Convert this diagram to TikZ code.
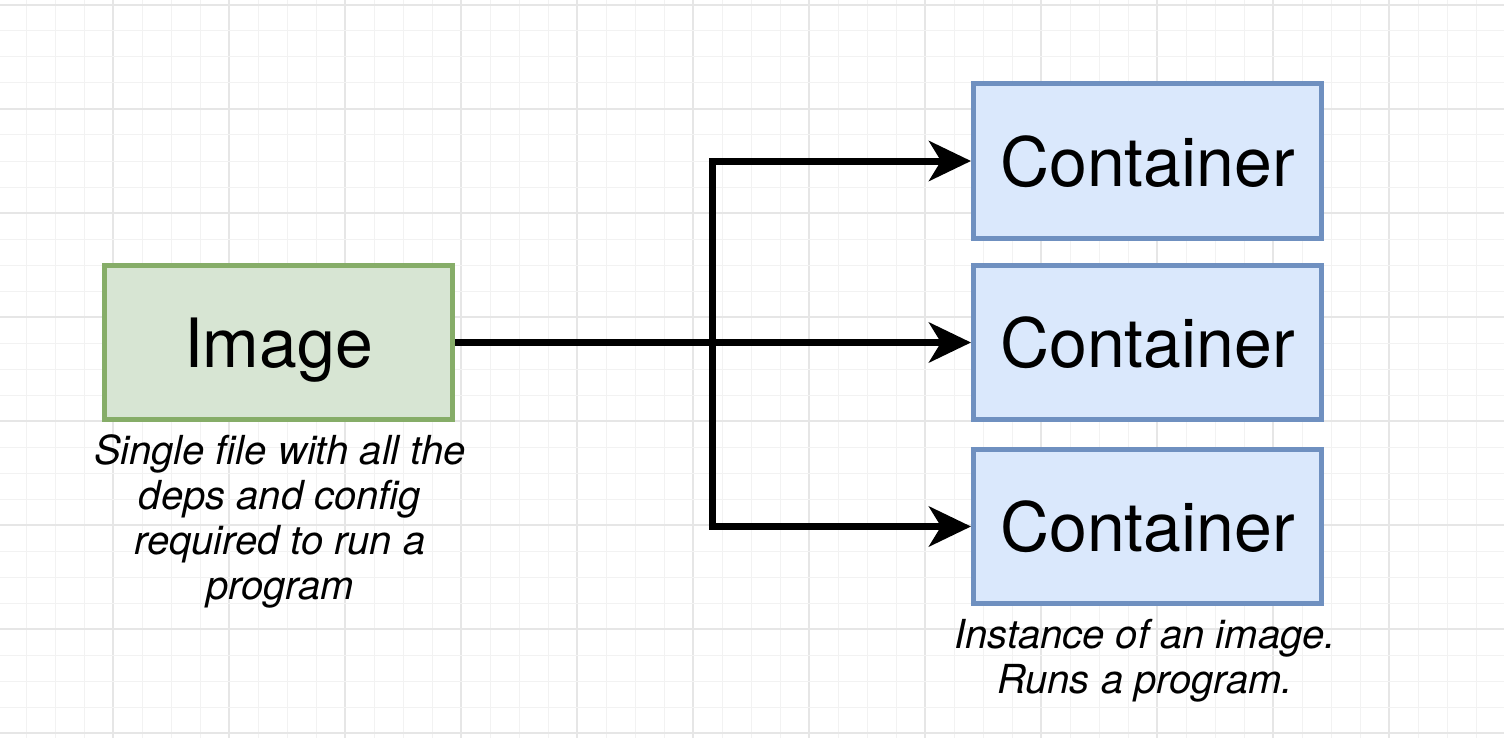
\documentclass[tikz,border=0pt]{standalone}
\usepackage{fontspec}
\setmainfont{TeX Gyre Heros}
\usetikzlibrary{arrows.meta,positioning}
\definecolor{imgfill}{HTML}{D7E5D3}
\definecolor{imgline}{HTML}{86AD68}
\definecolor{ctrfill}{HTML}{DAE8FC}
\definecolor{ctrline}{HTML}{6F90C0}
\definecolor{gridminor}{HTML}{F2F2F2}
\definecolor{gridmajor}{HTML}{E6E6E6}
\tikzset{
	imgbox/.style={draw=imgline, fill=imgfill, line width=2.5pt, minimum width=174pt, minimum height=77pt, inner sep=0pt, text depth=0pt, font=\fontsize{34}{40}\selectfont},
	ctrbox/.style={draw=ctrline, fill=ctrfill, line width=2.5pt, minimum width=174pt, minimum height=77pt, inner sep=0pt, text depth=0pt, font=\fontsize{34}{40}\selectfont},
	note/.style={align=center, inner sep=0pt, anchor=north, font=\fontsize{20}{22.5}\selectfont\itshape},
	flow/.style={line width=3.5pt, -{Stealth[length=21pt,width=20pt,inset=6pt]}},
}
\begin{document}
\begin{tikzpicture}[x=0.5pt,y=-0.5pt]
				\fill[white] (0,0) rectangle (1504,738);
				\useasboundingbox (0,0) rectangle (1504,738);
				% grid
				\foreach \k in {1,...,52}{
					\pgfmathsetmacro{\gx}{29*\k-3}
					\pgfmathtruncatemacro{\gm}{mod(\k,4)}
					\ifnum\gm=0 \draw[gridmajor, line width=0.6pt] (\gx,0) -- (\gx,738); \else \draw[gridminor, line width=0.5pt] (\gx,0) -- (\gx,738); \fi
				}
				\foreach \k in {0,...,28}{
					\pgfmathsetmacro{\gy}{26*\k+5}
					\pgfmathtruncatemacro{\gm}{mod(\k,4)}
					\ifnum\gm=0 \draw[gridmajor, line width=0.6pt] (0,\gy) -- (1504,\gy); \else \draw[gridminor, line width=0.5pt] (0,\gy) -- (1504,\gy); \fi
				}
				\node[imgbox] (img) at (278.5,342.5) {Image};
				\node[ctrbox] (cn1) at (1147.5,161) {Container};
				\node[ctrbox] (cn2) at (1147.5,342.5) {Container};
				\node[ctrbox] (cn3) at (1147.5,526.5) {Container};
				\node[note] (imgnote) at (280,434) {Single file with all the\\deps and config\\required to run a\\program};
				\node[note] (ctrnote) at (1145,619) {Instance of an image.\\Runs a program.};
				\coordinate (split) at (712,342.5);
				\draw[flow] (img.east) -- (cn2.west);
				\draw[flow] (img.east) -- (split) |- (cn1.west);
				\draw[flow] (img.east) -- (split) |- (cn3.west);
\end{tikzpicture}
\end{document}
